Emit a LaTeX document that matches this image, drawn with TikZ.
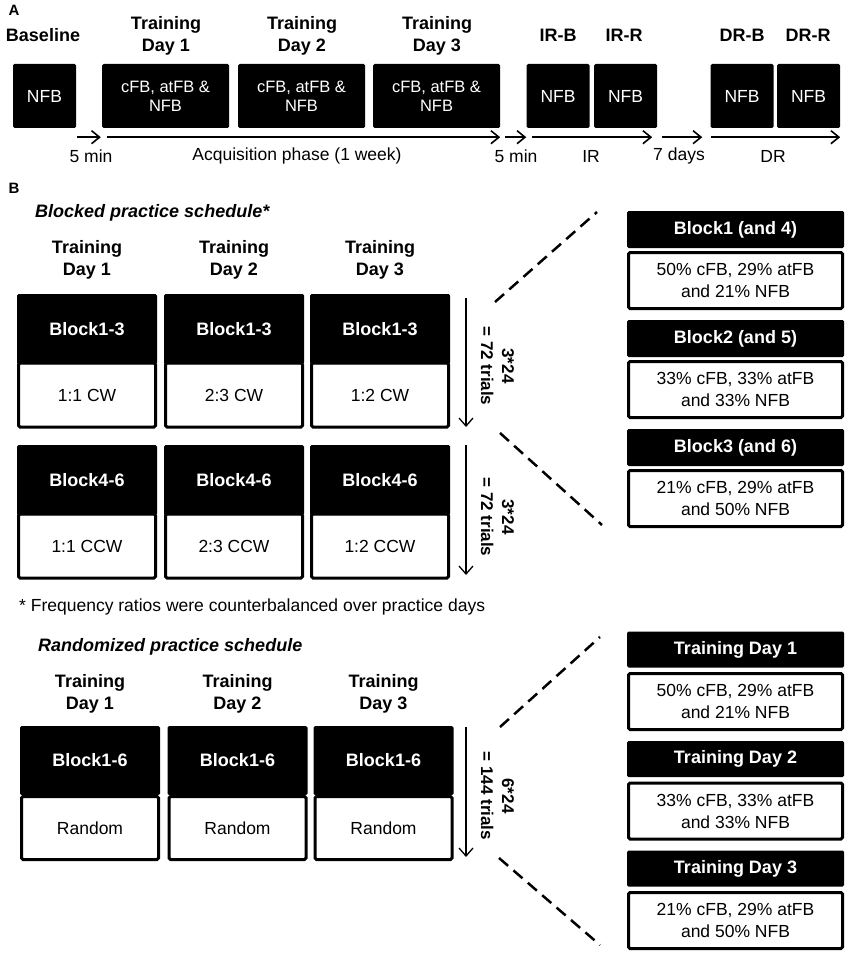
\documentclass[tikz,border=0pt]{standalone}
\usepackage{fontspec}
\setmainfont{Liberation Sans}
\usetikzlibrary{arrows.meta,positioning}

\begin{document}
\begin{tikzpicture}[x=1pt,y=-1pt,
		every node/.style={inner sep=0pt, align=center},
		txt/.style={font=\fontsize{17.5}{22}\selectfont},
		ttl/.style={font=\fontsize{18}{22}\selectfont\bfseries},
		sched/.style={font=\fontsize{18}{22}\selectfont\bfseries\itshape, anchor=west},
		blk/.style={fill=black, text=white, rounded corners=1.5pt},
		wht/.style={draw, fill=white, line width=3pt, rounded corners=1.5pt},
		tarr/.style={-{Straight Barb[length=8pt,width=13pt]}, line width=1.6pt},
		varr/.style={-{Straight Barb[length=8pt,width=14pt]}, line width=1.3pt},
		dsh/.style={line width=2.5pt, dash pattern=on 12pt off 7pt}]
	\useasboundingbox (0,0) rectangle (850,955);
	\def\bh{64}
	% pannello A
	\node[ttl, font=\fontsize{15}{17}\selectfont\bfseries] (lblA) at (14,10) {A};
	\node[ttl] (hbase) at (43,35) {Baseline};
	\foreach \n/\x in {1/166,2/302,3/437}
		\node[ttl] (htd\n) at (\x,36) {Training\\Day \n};
	\foreach \nm/\t/\x in {hirb/IR-B/558,hirr/IR-R/624,hdrb/DR-B/742,hdrr/DR-R/808}
		\node[ttl] (\nm) at (\x,35) {\t};
	\node[blk, txt, minimum width=63, minimum height=\bh] (base) at (44.5,96) {NFB};
	\foreach \n/\x in {1/165.5,2/301.5,3/436.5}
		\node[blk, font=\fontsize{16.5}{19}\selectfont, minimum width=127, minimum height=\bh] (td\n) at (\x,96) {cFB, atFB \&\\NFB};
	\foreach \nm/\x in {irb/558,irr/625.5,drb/742,drr/808.5}
		\node[blk, txt, minimum width=63, minimum height=\bh] (\nm) at (\x,96) {NFB};
	% linea del tempo
	\draw[tarr] ([shift={(1,9)}]base.south east) -- ([shift={(-1,9)}]td1.south west);
	\draw[tarr] ([shift={(5,9)}]td1.south west) -- ([shift={(0,9)}]td3.south east);
	\draw[tarr] ([shift={(5,9)}]td3.south east) -- ([shift={(0,9)}]irb.south west);
	\draw[tarr] ([shift={(6,9)}]irb.south west) -- ([shift={(-5,9)}]irr.south east);
	\draw[tarr] ([shift={(5,9)}]irr.south east) -- ([shift={(-8,9)}]drb.south west);
	\draw[tarr] ([shift={(1,9)}]drb.south west) -- ([shift={(0,9)}]drr.south east);
	\foreach \nm/\t/\x in {t1/5 min/91,t2/Acquisition phase (1 week)/297,t3/5 min/516,t4/IR/591,t5/7 days/679,t6/DR/773}
		\node[txt] (\nm) at (\x,156) {\t};
	% pannello B, blocked
	\node[ttl, font=\fontsize{15}{17}\selectfont\bfseries] (lblB) at (14,188) {B};
	\node[sched] (hblk) at (35,213) {Blocked practice schedule*};
	\foreach \n/\x in {1/87,2/234,3/380}
		\node[ttl] (bh\n) at (\x,260) {Training\\Day \n};
	\foreach \n/\x/\r in {1/87/1:1,2/234/2:3,3/380/1:2} {
		\node[wht, txt, minimum width=137, minimum height=64] (bw\n) at (\x,395) {\r~CW};
		\node[blk, ttl, minimum width=140, minimum height=70] (bb\n) at (\x,329) {Block1-3};
		\node[wht, txt, minimum width=137, minimum height=64] (cw\n) at (\x,546) {\r~CCW};
		\node[blk, ttl, minimum width=140, minimum height=70] (cb\n) at (\x,480) {Block4-6};
	}
	\coordinate (v1s) at (466,298);
	\coordinate (v1e) at (466,427);
	\coordinate (v2s) at (466,445);
	\coordinate (v2e) at (466,575);
	\draw[varr] (v1s) -- (v1e);
	\draw[varr] (v2s) -- (v2e);
	\node[ttl, font=\fontsize{17}{21}\selectfont\bfseries, rotate=-90] (n1) at (497.5,366) {3*24\\= 72 trials};
	\node[ttl, font=\fontsize{17}{21}\selectfont\bfseries, rotate=-90] (n2) at (497.5,517) {3*24\\= 72 trials};
	\foreach \t/\s [count=\i] in {{Block1 (and 4)}/{50\% cFB, 29\% atFB\\and 21\% NFB},
			{Block2 (and 5)}/{33\% cFB, 33\% atFB\\and 33\% NFB},
			{Block3 (and 6)}/{21\% cFB, 29\% atFB\\and 50\% NFB}} {
		\pgfmathsetmacro\yy{229.5+109*(\i-1)}
		\node[blk, ttl, minimum width=217, minimum height=37] (rb\i) at (735.5,\yy) {\t};
		\node[wht, txt, minimum width=214, minimum height=56] (rw\i) at (735.5,\yy+51) {\s};
	}
	% linee tratteggiate
	\coordinate (d1a) at (495,302);
	\coordinate (d1b) at (597,212);
	\coordinate (d2a) at (500,433);
	\coordinate (d2b) at (602,525);
	\draw[dsh] (d1a) -- (d1b);
	\draw[dsh] (d2a) -- (d2b);
	\node[txt, anchor=west] (fnote) at (19,607) {* Frequency ratios were counterbalanced over practice days};
	% pannello B, randomized
	\node[sched] (hrnd) at (38,647) {Randomized practice schedule};
	\foreach \n/\x in {1/90,2/237.5,3/383.5} {
		\node[ttl] (rh\n) at (\x,694) {Training\\Day \n};
		\node[wht, txt, minimum width=137, minimum height=63] (rdw\n) at (\x,828) {Random};
		\node[blk, ttl, minimum width=140, minimum height=69] (rdb\n) at (\x,760.5) {Block1-6};
	}
	\coordinate (v3s) at (466,727);
	\coordinate (v3e) at (466,857);
	\draw[varr] (v3s) -- (v3e);
	\node[ttl, font=\fontsize{17}{21}\selectfont\bfseries, rotate=-90] (n3) at (497.5,796) {6*24\\= 144 trials};
	\foreach \s [count=\i] in {{50\% cFB, 29\% atFB\\and 21\% NFB},
			{33\% cFB, 33\% atFB\\and 33\% NFB},
			{21\% cFB, 29\% atFB\\and 50\% NFB}} {
		\pgfmathsetmacro\yy{649.5+109.5*(\i-1)}
		\node[blk, ttl, minimum width=217, minimum height=36] (tb\i) at (735.5,\yy) {Training Day \i};
		\node[wht, txt, minimum width=214, minimum height=56] (tw\i) at (735.5,\yy+52) {\s};
	}
	\coordinate (d3a) at (500,727);
	\coordinate (d3b) at (600,637);
	\coordinate (d4a) at (499,858);
	\coordinate (d4b) at (600,945);
	\draw[dsh] (d3a) -- (d3b);
	\draw[dsh] (d4a) -- (d4b);
\end{tikzpicture}
\end{document}
